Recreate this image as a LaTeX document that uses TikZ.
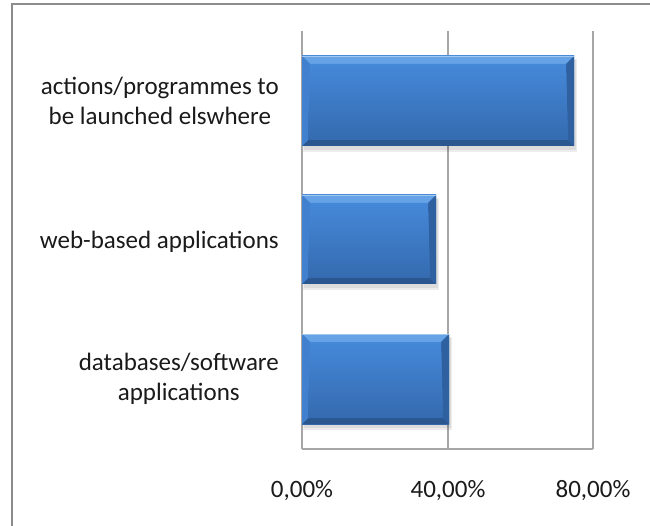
\documentclass[tikz,border=0pt]{standalone}
\usepackage{fontspec}
\setmainfont{Carlito}
\usetikzlibrary{calc}
\definecolor{bartop}{HTML}{4588D8}
\definecolor{barbot}{HTML}{356BB0}
\definecolor{bevtop}{HTML}{66A3E6}
\definecolor{bevbot}{HTML}{2A5790}
\definecolor{bevleft}{HTML}{4080CE}
\definecolor{bevright}{HTML}{2F60A0}
\definecolor{gridc}{HTML}{A6A6A6}
\definecolor{framec}{HTML}{8C8C8C}
\definecolor{txt}{HTML}{1A1A1A}
\tikzset{
  gridline/.style={draw=gridc,line width=1.2pt},
  framel/.style={draw=framec,line width=2.2pt},
  catlabel/.style={anchor=east,align=center,font=\fontsize{25}{30}\selectfont,text=txt,inner sep=0pt},
  ticklabel/.style={anchor=center,font=\fontsize{25}{30}\selectfont,text=txt,inner sep=0pt},
}
\newcommand{\bevelbar}[5]{% name, x0, y0, x1, y1
  \coordinate (#1-nw) at (#2,#3);
  \coordinate (#1-se) at (#4,#5);
  \fill[black,opacity=0.07] (#2+1,#3+3) rectangle (#4+3,#5+6);
  \fill[black,opacity=0.07] (#2+2,#3+4) rectangle (#4+2,#5+4);
  \shade[top color=bartop,bottom color=barbot] (#1-nw) rectangle (#1-se);
  \fill[bevtop] (#2,#3) -- (#4,#3) -- (#4-8,#3+8) -- (#2+8,#3+8) -- cycle;
  \fill[bevbot] (#2,#5) -- (#4,#5) -- (#4-6,#5-6) -- (#2+6,#5-6) -- cycle;
  \fill[bevleft] (#2,#3) -- (#2+8,#3+8) -- (#2+6,#5-6) -- (#2,#5) -- cycle;
  \fill[bevright] (#4,#3) -- (#4-8,#3+8) -- (#4-6,#5-6) -- (#4,#5) -- cycle;
  \shade[top color=bartop,bottom color=barbot] (#2+8,#3+8) -- (#4-8,#3+8) -- (#4-6,#5-6) -- (#2+6,#5-6) -- cycle;
  \draw[bevtop!60!white,line width=0.8pt] (#2,#3) -- (#4,#3);
}
\begin{document}
\begin{tikzpicture}[x=1pt,y=-1pt]
\useasboundingbox (0,0) rectangle (650,526);
\fill[white] (0,0) rectangle (650,526);
% frame
\draw[framel] (12,527) -- (12,4) -- (651,4);
% grid
\draw[gridline] (302,31) -- (302,449);
\draw[gridline] (448,31) -- (448,449);
\draw[gridline] (593,31) -- (593,449);
\draw[gridline] (302,449) -- (593,449);
% bars
\bevelbar{b1}{302}{56}{574}{146}
\bevelbar{b2}{302}{195}{436}{284}
\bevelbar{b3}{302}{334}{449}{424}
% category labels
\node[catlabel] (l1) at (279,101) {actions/programmes to\\be launched elswhere};
\node[catlabel] (l2) at (279,242) {web-based applications};
\node[catlabel] (l3) at (279,379) {databases/software\\applications};
% tick labels
\node[ticklabel] (t0) at (302,491) {0,00\%};
\node[ticklabel] (t1) at (448,491) {40,00\%};
\node[ticklabel] (t2) at (593,491) {80,00\%};
\end{tikzpicture}
\end{document}
